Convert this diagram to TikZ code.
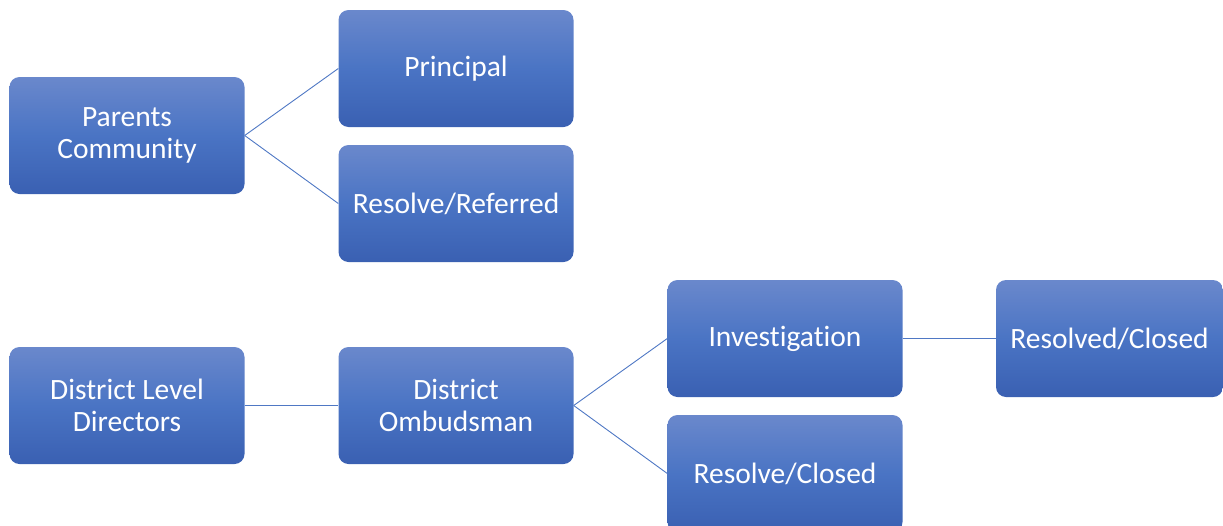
\documentclass[tikz,border=0pt]{standalone}
\usepackage{fontspec}
\setmainfont{Carlito}[Ligatures=NoCommon]
\begin{document}
\begin{tikzpicture}[x=1pt,y=-1pt,
  box/.style={rectangle, rounded corners=10pt, minimum width=235pt, minimum height=117pt,
    inner sep=0pt, top color=boxtop, bottom color=boxbot, middle color=boxmid,
    text=white, align=center, font=\fontsize{29.5pt}{32.5pt}\selectfont},
  link/.style={draw=linkblue, line width=0.9pt}]
\definecolor{boxtop}{HTML}{6A88CC}
\definecolor{boxmid}{HTML}{4A74C4}
\definecolor{boxbot}{HTML}{3A60B2}
\definecolor{linkblue}{HTML}{4F78C4}
\useasboundingbox (0,0) rectangle (1223,525);
\clip (0,0) rectangle (1223,525);
% upper tree
\node[box] (parents) at (127,135.5) {Parents\\Community};
\node[box] (principal) at (456,68.5) {Principal};
\node[box] (referred) at (456,203.5) {Resolve/Referred};
% lower chain
\node[box] (directors) at (127,405.5) {District Level\\Directors};
\node[box] (ombud) at (456,405.5) {District\\Ombudsman};
\node[box] (invest) at (785,338.5) {Investigation};
\node[box] (rclosed) at (785,473.5) {Resolve/Closed};
\node[box, minimum width=227pt] (resolved) at (1109.5,338.5) {Resolved/Closed};
% connectors
\draw[link] (parents.east) -- (principal.west);
\draw[link] (parents.east) -- (referred.west);
\draw[link] (directors.east) -- (ombud.west);
\draw[link] (ombud.east) -- (invest.west);
\draw[link] (ombud.east) -- (rclosed.west);
\draw[link] (invest.east) -- (resolved.west);
\end{tikzpicture}
\end{document}
